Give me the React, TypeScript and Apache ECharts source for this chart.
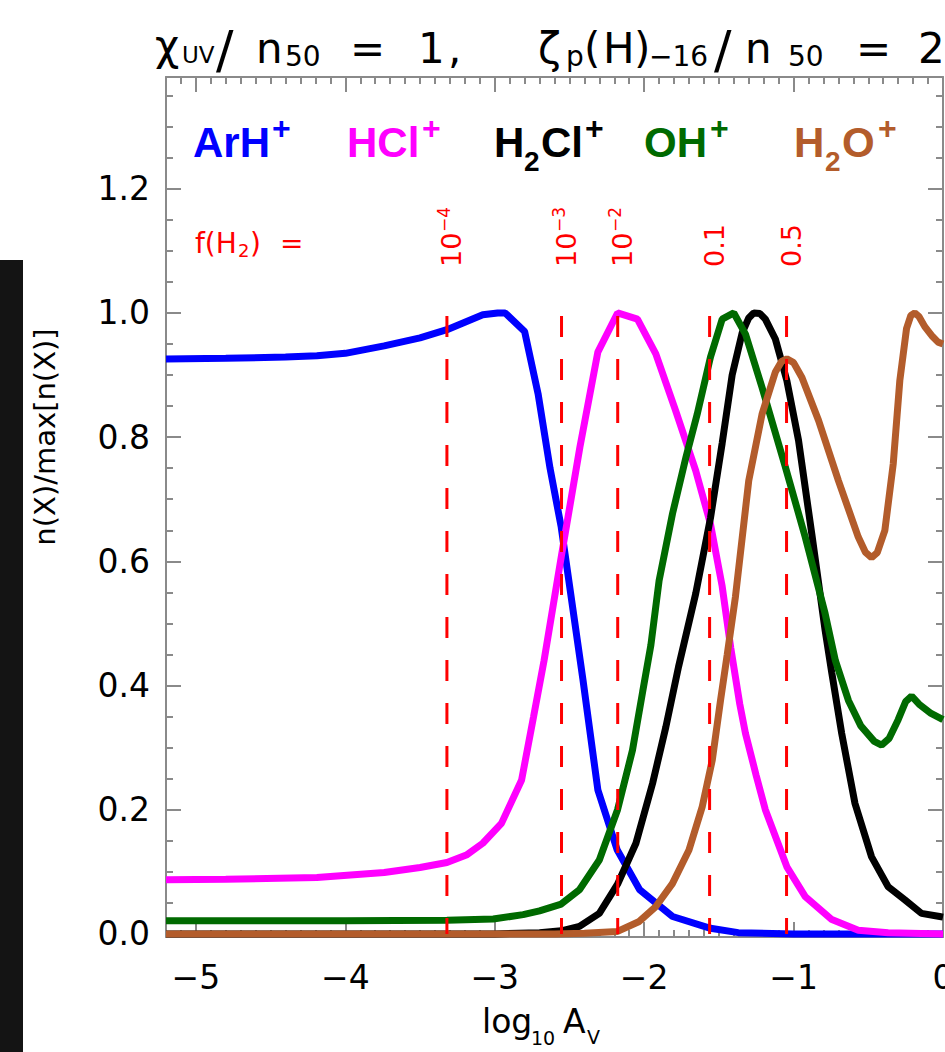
import { useEffect, useRef } from "react";
import * as echarts from "echarts";

// ---------- axis ranges & tick labels ----------
const X_MIN = -5.2;
const X_MAX = 0;
const Y_MIN = -0.005;
const Y_MAX = 1.38;
const X_TICKS = [-5, -4, -3, -2, -1, 0];
const Y_TICKS = [0, 0.2, 0.4, 0.6, 0.8, 1.0, 1.2];

// ---------- series data: [log10 Av, n(X)/max n(X)] ----------
const ARH = [
  [-5.2, 0.926], [-4.8, 0.927], [-4.4, 0.929], [-4.19, 0.931], [-4.0, 0.935], [-3.74, 0.947],
  [-3.5, 0.96], [-3.32, 0.973], [-3.2, 0.985], [-3.08, 0.997], [-2.98, 1.0], [-2.93, 1.0],
  [-2.8, 0.97], [-2.71, 0.87], [-2.63, 0.75], [-2.555, 0.655], [-2.41, 0.41], [-2.31, 0.232],
  [-2.18, 0.135], [-2.03, 0.071], [-1.81, 0.028], [-1.556, 0.009], [-1.37, 0.002], [-1.0, 0.0], [0, 0.0],
];
const HCL = [
  [-5.2, 0.087], [-4.8, 0.088], [-4.19, 0.091], [-3.74, 0.099], [-3.5, 0.107], [-3.32, 0.115],
  [-3.19, 0.127], [-3.08, 0.146], [-2.955, 0.178], [-2.82, 0.248], [-2.74, 0.35], [-2.67, 0.44],
  [-2.555, 0.607], [-2.43, 0.784], [-2.31, 0.937], [-2.178, 1.0], [-2.045, 0.99], [-1.922, 0.934],
  [-1.79, 0.843], [-1.655, 0.746], [-1.556, 0.66], [-1.478, 0.56], [-1.42, 0.46], [-1.36, 0.37],
  [-1.322, 0.323], [-1.25, 0.255], [-1.189, 0.2], [-1.045, 0.108], [-0.922, 0.06], [-0.744, 0.023],
  [-0.567, 0.006], [-0.367, 0.002], [0, 0.0],
];
const H2CL = [
  [-5.2, 0.0], [-3.0, 0.0], [-2.7, 0.002], [-2.555, 0.005], [-2.433, 0.012], [-2.3, 0.033],
  [-2.178, 0.08], [-2.055, 0.146], [-1.944, 0.242], [-1.855, 0.333], [-1.77, 0.43], [-1.655, 0.548],
  [-1.556, 0.67], [-1.478, 0.79], [-1.411, 0.9], [-1.344, 0.968], [-1.3, 0.992], [-1.267, 1.0],
  [-1.225, 0.999], [-1.189, 0.99], [-1.122, 0.958], [-1.045, 0.891], [-0.967, 0.795], [-0.878, 0.644],
  [-0.789, 0.489], [-0.744, 0.42], [-0.678, 0.323], [-0.589, 0.21], [-0.478, 0.124], [-0.367, 0.076],
  [-0.256, 0.055], [-0.144, 0.033], [-0.022, 0.028], [0, 0.027],
];
const OH = [
  [-5.2, 0.021], [-4.0, 0.021], [-3.32, 0.022], [-3.01, 0.024], [-2.81, 0.031], [-2.7, 0.037],
  [-2.555, 0.048], [-2.433, 0.071], [-2.3, 0.119], [-2.178, 0.2], [-2.078, 0.296], [-2.01, 0.39],
  [-1.955, 0.465], [-1.9, 0.569], [-1.81, 0.677], [-1.72, 0.768], [-1.645, 0.837], [-1.556, 0.929],
  [-1.478, 0.99], [-1.4, 1.0], [-1.322, 0.966], [-1.211, 0.88], [-1.055, 0.752], [-0.922, 0.639],
  [-0.789, 0.516], [-0.72, 0.44], [-0.633, 0.376], [-0.55, 0.335], [-0.46, 0.31], [-0.411, 0.304],
  [-0.36, 0.315], [-0.3, 0.345], [-0.25, 0.374], [-0.21, 0.383], [-0.16, 0.37], [-0.08, 0.355],
  [0, 0.345],
];
const H2O = [
  [-5.2, 0.0], [-2.6, 0.0], [-2.4, 0.001], [-2.178, 0.004], [-2.033, 0.02], [-1.922, 0.044],
  [-1.811, 0.081], [-1.7, 0.135], [-1.611, 0.205], [-1.544, 0.28], [-1.489, 0.376], [-1.444, 0.45],
  [-1.389, 0.543], [-1.3, 0.73], [-1.211, 0.837], [-1.122, 0.905], [-1.08, 0.922], [-1.045, 0.926],
  [-1.0, 0.92], [-0.944, 0.896], [-0.833, 0.827], [-0.7, 0.73], [-0.567, 0.639], [-0.52, 0.615],
  [-0.478, 0.606], [-0.44, 0.614], [-0.389, 0.65], [-0.333, 0.757], [-0.289, 0.891], [-0.244, 0.975],
  [-0.215, 0.996], [-0.189, 1.0], [-0.16, 0.994], [-0.122, 0.978], [-0.07, 0.962], [-0.033, 0.953],
  [0, 0.95],
];

// f(H2) marker positions and labels
const FH2_X = [-3.32, -2.553, -2.177, -1.562, -1.047];
const FH2_BASE = ["10", "10", "10", "0.1", "0.5"];
const FH2_EXP = ["−4", "−3", "−2", "", ""];
const FH2_TOP = 0.995;

const COLORS = {
  arh: "#0000ff",
  hcl: "#ff00ff",
  h2cl: "#000000",
  oh: "#006a00",
  h2o: "#b35c2b",
  red: "#ff0000",
};
const AX_COLOR = "#8a8a8a";

function minorTicks(min: number, max: number, step: number, majors: number[]) {
  const out: number[] = [];
  const n = Math.round((max - min) / step);
  for (let i = 0; i <= n; i++) {
    const v = Math.round((min + i * step) * 1000) / 1000;
    if (!majors.some((m) => Math.abs(m - v) < 1e-6)) out.push(v);
  }
  return out;
}

const X_MINOR = minorTicks(-5.2, 0, 0.1, X_TICKS);
const Y_MINOR = minorTicks(0, 1.35, 0.05, Y_TICKS);

const TICK_FONT = "DejaVu Sans";

function xAxisDef(position: string, ticks: number[], len: number, withLabel: boolean, showLine: boolean) {
  return {
    type: "value",
    position,
    min: X_MIN,
    max: X_MAX,
    axisLine: { show: showLine, onZero: false, lineStyle: { color: AX_COLOR, width: 2 } },
    axisTick: { show: true, inside: true, length: len, customValues: ticks, lineStyle: { color: AX_COLOR, width: 2 } },
    axisLabel: withLabel
      ? {
          show: true,
          customValues: X_TICKS,
          margin: 24,
          color: "#000",
          fontSize: 33,
          fontFamily: TICK_FONT,
          formatter: (v: number) => (v < 0 ? "−" + Math.abs(v) : String(v)),
        }
      : { show: false },
    splitLine: { show: false },
  };
}

function yAxisDef(position: string, ticks: number[], len: number, withLabel: boolean, showLine: boolean) {
  return {
    type: "value",
    position,
    min: Y_MIN,
    max: Y_MAX,
    axisLine: { show: showLine, onZero: false, lineStyle: { color: AX_COLOR, width: 2 } },
    axisTick: { show: true, inside: true, length: len, customValues: ticks, lineStyle: { color: AX_COLOR, width: 2 } },
    axisLabel: withLabel
      ? {
          show: true,
          customValues: Y_TICKS,
          margin: 16,
          color: "#000",
          fontSize: 33,
          fontFamily: TICK_FONT,
          formatter: (v: number) => v.toFixed(1),
        }
      : { show: false },
    splitLine: { show: false },
  };
}

function lineSeries(name: string, data: number[][], color: string, width = 7, type: any = "solid") {
  return {
    name,
    type: "line",
    data,
    xAxisIndex: 0,
    yAxisIndex: 0,
    showSymbol: false,
    symbol: "none",
    smooth: false,
    lineStyle: { color, width, type },
    silent: true,
  };
}

function txt(text: string, x: number, y: number, size: number, color: string, opts: any = {}) {
  const align = opts.align || "left";
  return {
    type: "text",
    x,
    y,
    rotation: opts.rotation || 0,
    silent: true,
    z: 100,
    style: {
      text,
      fill: color,
      font: `${opts.weight || "normal"} ${size}px ${opts.family || "DejaVu Sans"}`,
      textAlign: align,
      align,
      textVerticalAlign: "middle",
      verticalAlign: "middle",
    },
  };
}

function buildGraphic(px: (x: number) => number) {
  const els: any[] = [];
  // left dark strip (part of the reference image)
  els.push({ type: "rect", shape: { x: 0, y: 260, width: 23, height: 792 }, style: { fill: "#141414" }, silent: true });

  // title
  const T = 42;
  const S = 28;
  els.push(txt("χ", 155, 45, T, "#000"));
  els.push(txt("UV", 182, 55, 23, "#000"));
  els.push(txt("/", 216, 50, 52, "#000"));
  els.push(txt("n", 256, 48, T, "#000"));
  els.push(txt("50", 285, 56, S, "#000"));
  els.push(txt("=", 350, 48, T, "#000"));
  els.push(txt("1", 418, 48, T, "#000"));
  els.push(txt(",", 448, 48, T, "#000"));
  els.push(txt("ζ", 538, 48, T, "#000"));
  els.push(txt("p", 566, 56, S, "#000"));
  els.push(txt("(", 584, 48, T, "#000"));
  els.push(txt("H", 603, 48, T, "#000"));
  els.push(txt(")", 634, 48, T, "#000"));
  els.push(txt("−16", 649, 56, S, "#000"));
  els.push(txt("/", 714, 50, 52, "#000"));
  els.push(txt("n", 745, 48, T, "#000"));
  els.push(txt("50", 788, 56, S, "#000"));
  els.push(txt("=", 856, 48, T, "#000"));
  els.push(txt("2", 918, 48, T, "#000"));

  // legend (species names)
  const LF = "Liberation Sans, Arial, sans-serif";
  const L = 42;
  const P = 32;
  const SUB = 28;
  const ly = 142;
  const py = 128;
  const sy = 161;
  const b = { weight: "bold", family: LF };
  els.push(txt("ArH", 193, ly, L, COLORS.arh, b));
  els.push(txt("+", 272, py, P, COLORS.arh, b));
  els.push(txt("HCl", 347, ly, L, COLORS.hcl, b));
  els.push(txt("+", 422, py, P, COLORS.hcl, b));
  els.push(txt("H", 494, ly, L, COLORS.h2cl, b));
  els.push(txt("2", 524, sy, SUB, COLORS.h2cl, b));
  els.push(txt("Cl", 541, ly, L, COLORS.h2cl, b));
  els.push(txt("+", 585, py, P, COLORS.h2cl, b));
  els.push(txt("OH", 644, ly, L, COLORS.oh, b));
  els.push(txt("+", 710, py, P, COLORS.oh, b));
  els.push(txt("H", 794, ly, L, COLORS.h2o, b));
  els.push(txt("2", 825, sy, SUB, COLORS.h2o, b));
  els.push(txt("O", 842, ly, L, COLORS.h2o, b));
  els.push(txt("+", 878, py, P, COLORS.h2o, b));

  // f(H2) =
  els.push(txt("f(H", 195, 243, 28, COLORS.red));
  els.push(txt("2", 238, 250, 18, COLORS.red));
  els.push(txt(")", 250, 243, 28, COLORS.red));
  els.push(txt("=", 280, 243, 28, COLORS.red));

  // rotated f(H2) values
  FH2_X.forEach((xv, i) => {
    const cx = px(xv) + 5;
    const children: any[] = [txt(FH2_BASE[i], 0, 0, 27, COLORS.red)];
    if (FH2_EXP[i]) children.push(txt(FH2_EXP[i], 35, -8, 17, COLORS.red));
    els.push({ type: "group", x: cx, y: 267, rotation: Math.PI / 2, silent: true, children });
  });

  // axis titles
  els.push(txt("n(X)/max[n(X)]", 45, 437, 29, "#000", { align: "center", rotation: Math.PI / 2 }));
  els.push(txt("log", 482, 1021, 33, "#000"));
  els.push(txt("10", 531, 1038, 19, "#000"));
  els.push(txt("A", 563, 1021, 33, "#000"));
  els.push(txt("V", 587, 1037, 19, "#000"));
  return els;
}

export default function App() {
  const ref = useRef<HTMLDivElement>(null);
  useEffect(() => {
    if (!ref.current) return;
    const chart = echarts.init(ref.current, null, { renderer: "svg" });
    const dashSeries = FH2_X.map((xv, i) =>
      ({
        ...lineSeries("f(H2) " + FH2_BASE[i] + FH2_EXP[i], [[xv, FH2_TOP], [xv, 0]], COLORS.red, 3, [21, 22]),
        z: 10,
      })
    );
    chart.setOption({
      animation: false,
      backgroundColor: "#ffffff",
      grid: { left: 166, right: 2, top: 77, bottom: 115, outerBoundsMode: "none", containLabel: false },
      xAxis: [
        xAxisDef("bottom", X_TICKS, 15, true, true),
        xAxisDef("bottom", X_MINOR, 7, false, false),
        xAxisDef("top", X_TICKS, 15, false, true),
        xAxisDef("top", X_MINOR, 7, false, false),
      ],
      yAxis: [
        yAxisDef("left", Y_TICKS, 15, true, true),
        yAxisDef("left", Y_MINOR, 7, false, false),
        yAxisDef("right", Y_TICKS, 15, false, true),
        yAxisDef("right", Y_MINOR, 7, false, false),
      ],
      series: [
        lineSeries("ArH+", ARH, COLORS.arh),
        lineSeries("HCl+", HCL, COLORS.hcl),
        lineSeries("H2Cl+", H2CL, COLORS.h2cl),
        lineSeries("OH+", OH, COLORS.oh),
        lineSeries("H2O+", H2O, COLORS.h2o),
        ...dashSeries,
      ],
    });
    const px = (x: number) => chart.convertToPixel({ xAxisIndex: 0 }, x) as number;
    chart.setOption({ graphic: buildGraphic(px) });
    return () => chart.dispose();
  }, []);
  return (
    <div
      ref={ref}
      style={{ position: "fixed", left: 0, top: 0, width: 945, height: 1052, background: "#fff" }}
    />
  );
}
